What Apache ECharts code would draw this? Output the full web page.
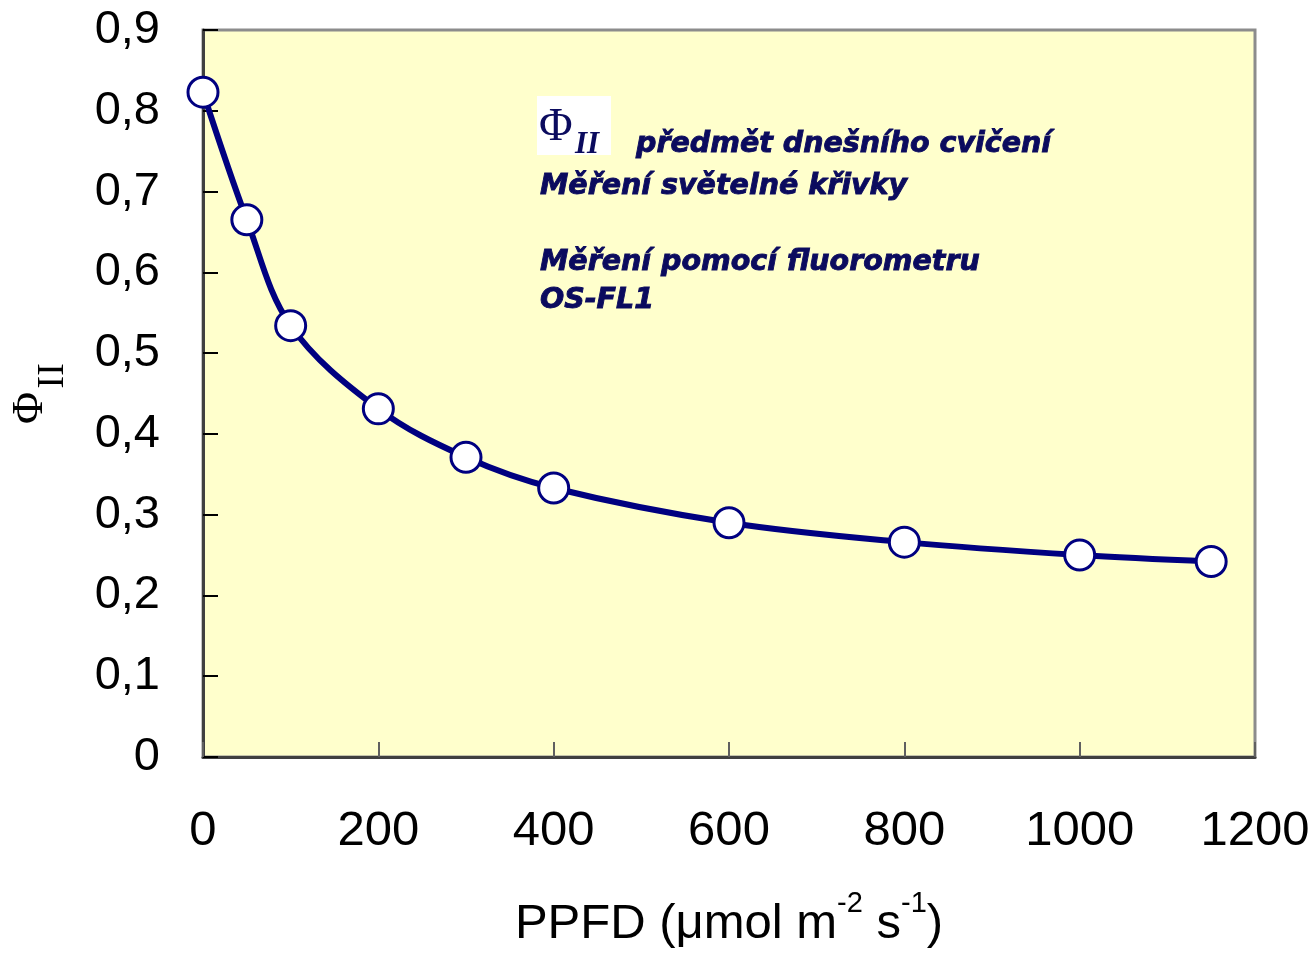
<!DOCTYPE html>
<html>
<head>
<meta charset="utf-8">
<script src="https://cdn.jsdelivr.net/npm/echarts@6/dist/echarts.min.js"></script>
<style>
  html, body { margin: 0; padding: 0; background: #fff; }
  #chart { width: 1316px; height: 958px; }
</style>
</head>
<body>
<div id="chart"></div>
<script>
// light curve data, PPFD vs quantum yield of PSII
var ppfd = [0, 50, 100, 200, 300, 400, 600, 800, 1000, 1150]
var phi2 = [0.823, 0.665, 0.534, 0.431, 0.371, 0.333, 0.290, 0.266, 0.250, 0.242]
var xTicks = [0, 200, 400, 600, 800, 1000, 1200]
var yTicks = [0, 0.1, 0.2, 0.3, 0.4, 0.5, 0.6, 0.7, 0.8, 0.9]
var noteLines = [
    'Měření světelné křivky',
    '',
    'Měření pomocí fluorometru',
    'OS-FL1'
]

var navy = '#000080'
var noteColor = '#0b0b5e'
var noteFont = 'bold italic 28.5px "DejaVu Sans", Verdana, sans-serif'

var points = ppfd.map(function (x, i) { return [x, phi2[i]] })

var chart = echarts.init(document.getElementById('chart'))

function noteText (text, x, y) {
    return {
        type: 'text', x: x, y: y, z: 11,
        style: { text: text, font: noteFont, fill: noteColor, stroke: noteColor, lineWidth: 0.9, verticalAlign: 'middle' }
    }
}

var option = {
    animation: false,
    backgroundColor: '#ffffff',
    grid: {
        left: 203,
        right: 61,
        top: 30,
        bottom: 201,
        show: true,
        backgroundColor: '#ffffcc',
        borderColor: '#8c8c8c',
        borderWidth: 3
    },
    xAxis: {
        type: 'value',
        min: xTicks[0],
        max: xTicks[xTicks.length - 1],
        interval: 200,
        axisLine: { show: true, lineStyle: { color: '#404040', width: 3 } },
        axisTick: { show: true, inside: true, length: 15, lineStyle: { color: '#606060', width: 2 } },
        axisLabel: {
            margin: 50,
            fontSize: 49,
            fontFamily: '"Liberation Sans", Arial, sans-serif',
            color: '#000',
            formatter: function (v) { return String(v) }
        },
        splitLine: { show: false },
        name: '{t|PPFD (μmol m}{s|-2}{t| s}{s|-1}{t|)}',
        nameLocation: 'middle',
        nameGap: 132,
        nameTextStyle: {
            rich: {
                t: { fontSize: 49, fontFamily: '"Liberation Sans", Arial, sans-serif', color: '#000', lineHeight: 60, verticalAlign: 'bottom' },
                s: { fontSize: 29, fontFamily: '"Liberation Sans", Arial, sans-serif', color: '#000', verticalAlign: 'top', lineHeight: 32 }
            }
        }
    },
    yAxis: {
        type: 'value',
        min: 0,
        max: 0.9,
        interval: 0.1,
        axisLine: { show: true, lineStyle: { color: '#404040', width: 3 } },
        axisTick: { show: true, inside: true, length: 15, lineStyle: { color: '#000', width: 2 } },
        axisLabel: {
            margin: 43,
            fontSize: 47,
            fontFamily: '"Liberation Sans", Arial, sans-serif',
            color: '#000',
            formatter: function (v) {
                var t = yTicks.find(function (k) { return Math.abs(k - v) < 1e-9 })
                if (t === 0) return '0'
                return (t !== undefined ? t : v).toFixed(1).replace('.', ',')
            }
        },
        splitLine: { show: false },
        name: '{a|Φ} {b|II}',
        nameLocation: 'middle',
        nameRotate: 90,
        nameGap: 131,
        nameTextStyle: {
            lineHeight: 64,
            rich: {
                a: { fontSize: 44, fontFamily: '"Liberation Serif", "Times New Roman", serif', color: '#000', verticalAlign: 'top', lineHeight: 44 },
                b: { fontSize: 38, fontFamily: '"Liberation Serif", "Times New Roman", serif', color: '#000', verticalAlign: 'bottom', lineHeight: 38 }
            }
        }
    },
    series: [
        {
            type: 'line',
            data: points,
            smooth: 0.35,
            symbol: 'circle',
            symbolSize: 30,
            lineStyle: { color: navy, width: 6 },
            itemStyle: { color: '#ffffff', borderColor: navy, borderWidth: 3 },
            z: 3
        }
    ],
    graphic: [
        { type: 'rect', shape: { x: 537, y: 96, width: 74, height: 59 }, style: { fill: '#ffffff' }, z: 10 },
        { type: 'text', x: 539, y: 128, z: 11, style: { text: 'Φ', font: '46px "Liberation Serif", "Times New Roman", serif', fill: noteColor, verticalAlign: 'middle' } },
        { type: 'text', x: 575, y: 145, z: 11, style: { text: 'II', font: 'bold italic 31px "Liberation Serif", "Times New Roman", serif', fill: noteColor, verticalAlign: 'middle' } },
        noteText('předmět dnešního cvičení', 636, 145)
    ].concat(noteLines.map(function (line, i) {
        return noteText(line, 540, 187 + i * 38)
    }))
}

chart.setOption(option)
</script>
</body>
</html>
